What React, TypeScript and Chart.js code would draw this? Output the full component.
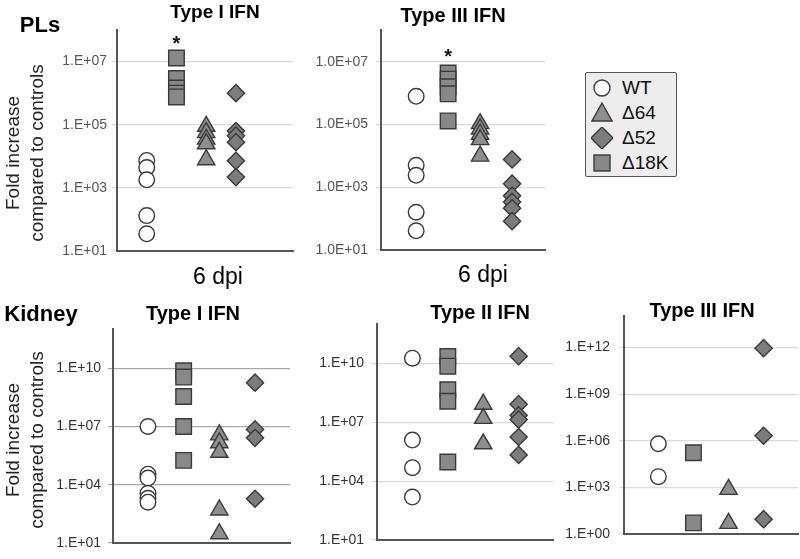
import React, { useEffect, useRef } from "react";
import { Chart, registerables } from "chart.js";

Chart.register(...registerables);

// ---------- data ----------
// x positions of the four groups inside every panel
const groupX = { WT: 1, D18K: 2, D64: 3, D52: 4 };
const legendLabels = ["WT", "Δ64", "Δ52", "Δ18K"];

// PLs – Type I IFN (6 dpi)
const plT1_WT = [7400, 4400, 1800, 132, 35];
const plT1_D18K = [1.3e7, 2.9e6, 1.45e6, 1.0e6, 7.6e5];
const plT1_D64 = [8.9e4, 5.6e4, 3.5e4, 2.5e4, 7.8e3];
const plT1_D52 = [1.0e6, 6.3e4, 4.5e4, 2.8e4, 7.2e3, 2.2e3];
const plT1_star = [5.3e7];

// PLs – Type III IFN (6 dpi)
const plT3_WT = [7.9e5, 5.0e3, 2.4e3, 160, 41];
const plT3_D18K = [4.4e6, 2.8e6, 1.6e6, 9.5e5, 1.3e5];
const plT3_D64 = [1.07e5, 7.2e4, 4.9e4, 3.3e4, 9.8e3];
const plT3_D52 = [7.7e3, 1.3e3, 540, 340, 215, 83];
const plT3_star = [2.0e7];

// Kidney – Type I IFN
const kdT1_WT = [1.0e7, 3.5e4, 2.2e4, 3.6e3, 2.0e3, 1.26e3];
const kdT1_D18K = [7.4e9, 3.5e9, 3.5e8, 1.0e7, 1.8e5];
const kdT1_D64 = [3.7e6, 1.45e6, 4.7e5, 500, 30];
const kdT1_D52 = [1.8e9, 7.1e6, 2.6e6, 1.9e3];

// Kidney – Type II IFN
const kdT2_WT = [1.9e10, 1.26e6, 4.9e4, 1.55e3];
const kdT2_D18K = [2.3e10, 7.4e9, 4.6e8, 1.2e8, 9.5e4];
const kdT2_D64 = [8.5e7, 1.6e7, 8.1e5];
const kdT2_D52 = [2.4e10, 8.5e7, 2.3e7, 1.4e7, 1.8e6, 2.2e5];

// Kidney – Type III IFN
const kdT3_WT = [6.4e5, 4.9e3];
const kdT3_D18K = [1.7e5, 5.2];
const kdT3_D64 = [740, 4.8];
const kdT3_D52 = [9e11, 2.1e6, 9];

// tick values / labels
const ticksPL = [1e1, 1e3, 1e5, 1e7];
const ticksPL_T1_labels = ["1.E+01", "1.E+03", "1.E+05", "1.E+07"];
const ticksPL_T3_labels = ["1.0E+01", "1.0E+03", "1.0E+05", "1.0E+07"];
const ticksKd = [1e1, 1e4, 1e7, 1e10];
const ticksKd_labels = ["1.E+01", "1.E+04", "1.E+07", "1.E+10"];
const ticksKd3 = [1e0, 1e3, 1e6, 1e9, 1e12];
const ticksKd3_labels = ["1.E+00", "1.E+03", "1.E+06", "1.E+09", "1.E+12"];

// ---------- styling ----------
const FONT = "'Liberation Sans', Arial, Helvetica, sans-serif";
const LABEL_W = 80;
const PAD_T = 14;
const PAD_B = 14;
const PAD_R = 4;

const markerStyles = {
  WT: { pointStyle: "circle", radius: 7.8, bg: "#ffffff", border: "#3a3a3a" },
  D64: { pointStyle: "triangle", radius: 10, bg: "#8e8e8e", border: "#3a3a3a" },
  D52: { pointStyle: "rectRot", radius: 8.6, bg: "#7c7c7c", border: "#3a3a3a" },
  D18K: { pointStyle: "rect", radius: 11, bg: "#888888", border: "#3a3a3a" },
};

type PanelCfg = {
  axisX: number;
  top: number;
  bottom: number;
  right: number;
  yMin: number;
  yMax: number;
  xMin: number;
  xMax: number;
  ticks: number[];
  labels: string[];
  grid: string;
  tickColor: string;
  tickPad: number;
  series: { WT: number[]; D18K: number[]; D64: number[]; D52: number[] };
  star?: number[];
};

const panels: PanelCfg[] = [
  {
    axisX: 117, top: 30, bottom: 259, right: 293,
    yMin: 1e1, yMax: 1e8, xMin: 0, xMax: 5.92,
    ticks: ticksPL, labels: ticksPL_T1_labels, grid: "#dadada", tickColor: "#555", tickPad: 5,
    series: { WT: plT1_WT, D18K: plT1_D18K, D64: plT1_D64, D52: plT1_D52 },
    star: plT1_star,
  },
  {
    axisX: 381, top: 28, bottom: 258, right: 545,
    yMin: 1e1, yMax: 1e8, xMin: -0.1, xMax: 5.03,
    ticks: ticksPL, labels: ticksPL_T3_labels, grid: "#dadada", tickColor: "#555", tickPad: 8,
    series: { WT: plT3_WT, D18K: plT3_D18K, D64: plT3_D64, D52: plT3_D52 },
    star: plT3_star,
  },
  {
    axisX: 113, top: 328, bottom: 551, right: 290,
    yMin: 1e1, yMax: 1e12, xMin: 0.02, xMax: 4.98,
    ticks: ticksKd, labels: ticksKd_labels, grid: "#a8a8a8", tickColor: "#333", tickPad: 7,
    series: { WT: kdT1_WT, D18K: kdT1_D18K, D64: kdT1_D64, D52: kdT1_D52 },
  },
  {
    axisX: 377, top: 322, bottom: 548, right: 553,
    yMin: 1e1, yMax: 1e12, xMin: 0, xMax: 4.97,
    ticks: ticksKd, labels: ticksKd_labels, grid: "#dadada", tickColor: "#333", tickPad: 8,
    series: { WT: kdT2_WT, D18K: kdT2_D18K, D64: kdT2_D64, D52: kdT2_D52 },
  },
  {
    axisX: 624, top: 313, bottom: 542, right: 798,
    yMin: 1e0, yMax: 1e14, xMin: 0.02, xMax: 4.98,
    ticks: ticksKd3, labels: ticksKd3_labels, grid: "#dadada", tickColor: "#333", tickPad: 9,
    series: { WT: kdT3_WT, D18K: kdT3_D18K, D64: kdT3_D64, D52: kdT3_D52 },
  },
];

const starPlugin = {
  id: "stars",
  afterDatasetsDraw(chart: any, _args: any, opts: any) {
    const stars: number[] = opts && opts.values ? opts.values : [];
    const { ctx } = chart;
    ctx.save();
    ctx.fillStyle = "#111";
    ctx.font = `bold 20px ${FONT}`;
    ctx.textAlign = "center";
    ctx.textBaseline = "alphabetic";
    stars.forEach((v) => {
      const x = chart.scales.x.getPixelForValue(groupX.D18K);
      const y = chart.scales.y.getPixelForValue(v);
      ctx.fillText("*", x, y + 11);
    });
    ctx.restore();
  },
};

function Panel({ cfg }: { cfg: PanelCfg }) {
  const ref = useRef<HTMLCanvasElement>(null);
  const width = LABEL_W + (cfg.right - cfg.axisX) + PAD_R;
  const height = cfg.bottom - cfg.top + PAD_T + PAD_B;

  useEffect(() => {
    if (!ref.current) return;
    const order: ("WT" | "D64" | "D52" | "D18K")[] = ["WT", "D64", "D52", "D18K"];
    const datasets = order.map((k) => {
      const st = (markerStyles as any)[k];
      return {
        label: k,
        data: cfg.series[k].map((v) => ({ x: groupX[k], y: v })),
        pointStyle: st.pointStyle,
        pointRadius: st.radius,
        pointHoverRadius: st.radius,
        pointBackgroundColor: st.bg,
        pointBorderColor: st.border,
        pointBorderWidth: 1.4,
        showLine: false,
        clip: false as any,
      };
    });
    const chart = new Chart(ref.current, {
      type: "scatter",
      data: { datasets: datasets as any },
      options: {
        animation: false,
        responsive: false,
        devicePixelRatio: 1,
        layout: { autoPadding: false, padding: { top: PAD_T, bottom: PAD_B, left: 0, right: PAD_R } } as any,
        plugins: {
          legend: { display: false },
          tooltip: { enabled: false },
          stars: { values: cfg.star || [] },
        } as any,
        scales: {
          x: {
            type: "linear",
            min: cfg.xMin,
            max: cfg.xMax,
            ticks: { display: false },
            grid: { display: false },
            border: { display: true, color: "#555", width: 2 },
          },
          y: {
            type: "logarithmic",
            min: cfg.yMin,
            max: cfg.yMax,
            afterBuildTicks: (scale: any) => {
              scale.ticks = cfg.ticks.map((v) => ({ value: v }));
            },
            afterFit: (scale: any) => {
              scale.width = LABEL_W;
            },
            ticks: {
              autoSkip: false,
              padding: cfg.tickPad,
              color: cfg.tickColor,
              font: { family: FONT, size: 14 },
              callback: (_v: any, i: number) => cfg.labels[i],
            },
            grid: { color: cfg.grid, lineWidth: 1.2, drawTicks: true, tickLength: 5 },
            border: { display: true, color: "#555", width: 2 },
          },
        },
      },
      plugins: [starPlugin],
    });
    return () => chart.destroy();
  }, []);

  return (
    <canvas
      ref={ref}
      width={width}
      height={height}
      style={{
        position: "absolute",
        left: cfg.axisX - LABEL_W,
        top: cfg.top - PAD_T,
        width,
        height,
      }}
    />
  );
}

function Txt({ x, y, size, bold, children, color }: any) {
  return (
    <div
      style={{
        position: "absolute",
        left: x,
        top: y,
        transform: "translate(-50%, -50%)",
        fontFamily: FONT,
        fontSize: size,
        fontWeight: bold ? "bold" : "normal",
        color: color || "#000",
        whiteSpace: "nowrap",
        lineHeight: 1,
      }}
    >
      {children}
    </div>
  );
}

function YTitle({ x, y }: { x: number; y: number }) {
  return (
    <div
      style={{
        position: "absolute",
        left: x,
        top: y,
        transform: "translate(-50%, -50%) rotate(-90deg)",
        fontFamily: FONT,
        fontSize: 19,
        lineHeight: "24px",
        textAlign: "center",
        whiteSpace: "nowrap",
        color: "#222",
      }}
    >
      Fold increase
      <br />
      compared to controls
    </div>
  );
}

function LegendSym({ kind }: { kind: string }) {
  const st = (markerStyles as any)[kind];
  let shape: any = null;
  if (kind === "WT") shape = <circle cx={11} cy={11} r={8} fill={st.bg} stroke={st.border} strokeWidth={1.4} />;
  if (kind === "D64") shape = <polygon points="11,1 21,19 1,19" fill={st.bg} stroke={st.border} strokeWidth={1.4} />;
  if (kind === "D52") shape = <polygon points="11,0 22,11 11,22 0,11" fill={st.bg} stroke={st.border} strokeWidth={1.4} />;
  if (kind === "D18K") shape = <rect x={3} y={3} width={16} height={16} fill={st.bg} stroke={st.border} strokeWidth={1.4} />;
  return (
    <svg width={22} height={22} style={{ display: "block" }}>
      {shape}
    </svg>
  );
}

function Legend() {
  const kinds = ["WT", "D64", "D52", "D18K"];
  return (
    <div
      style={{
        position: "absolute",
        left: 585,
        top: 72,
        width: 90,
        height: 103,
        background: "#ededed",
        border: "1.5px solid #555",
        borderRadius: 2,
      }}
    >
      {kinds.map((k, i) => (
        <div
          key={k}
          style={{
            position: "absolute",
            left: 5,
            top: 3 + i * 25,
            height: 24,
            display: "flex",
            alignItems: "center",
          }}
        >
          <LegendSym kind={k} />
          <span style={{ marginLeft: 9, fontFamily: FONT, fontSize: 19, color: "#111" }}>
            {legendLabels[i]}
          </span>
        </div>
      ))}
    </div>
  );
}

export default function App() {
  useEffect(() => {
    document.body.style.margin = "0";
  }, []);
  return (
    <div style={{ position: "fixed", left: 0, top: 0, width: 800, height: 559, background: "#fff", overflow: "hidden" }}>
      {panels.map((p, i) => (
        <Panel key={i} cfg={p} />
      ))}
      <Txt x={40} y={25} size={22} bold>PLs</Txt>
      <Txt x={215} y={11} size={19} bold>Type I IFN</Txt>
      <Txt x={453} y={15} size={20} bold>Type III IFN</Txt>
      <Txt x={218} y={276} size={23}>6 dpi</Txt>
      <Txt x={483} y={274} size={23}>6 dpi</Txt>
      <YTitle x={25} y={153} />
      <Legend />
      <Txt x={41} y={314} size={22} bold>Kidney</Txt>
      <Txt x={193} y={313} size={20} bold>Type I IFN</Txt>
      <Txt x={480} y={312} size={20} bold>Type II IFN</Txt>
      <Txt x={702} y={310} size={20} bold>Type III IFN</Txt>
      <YTitle x={25} y={440} />
    </div>
  );
}
